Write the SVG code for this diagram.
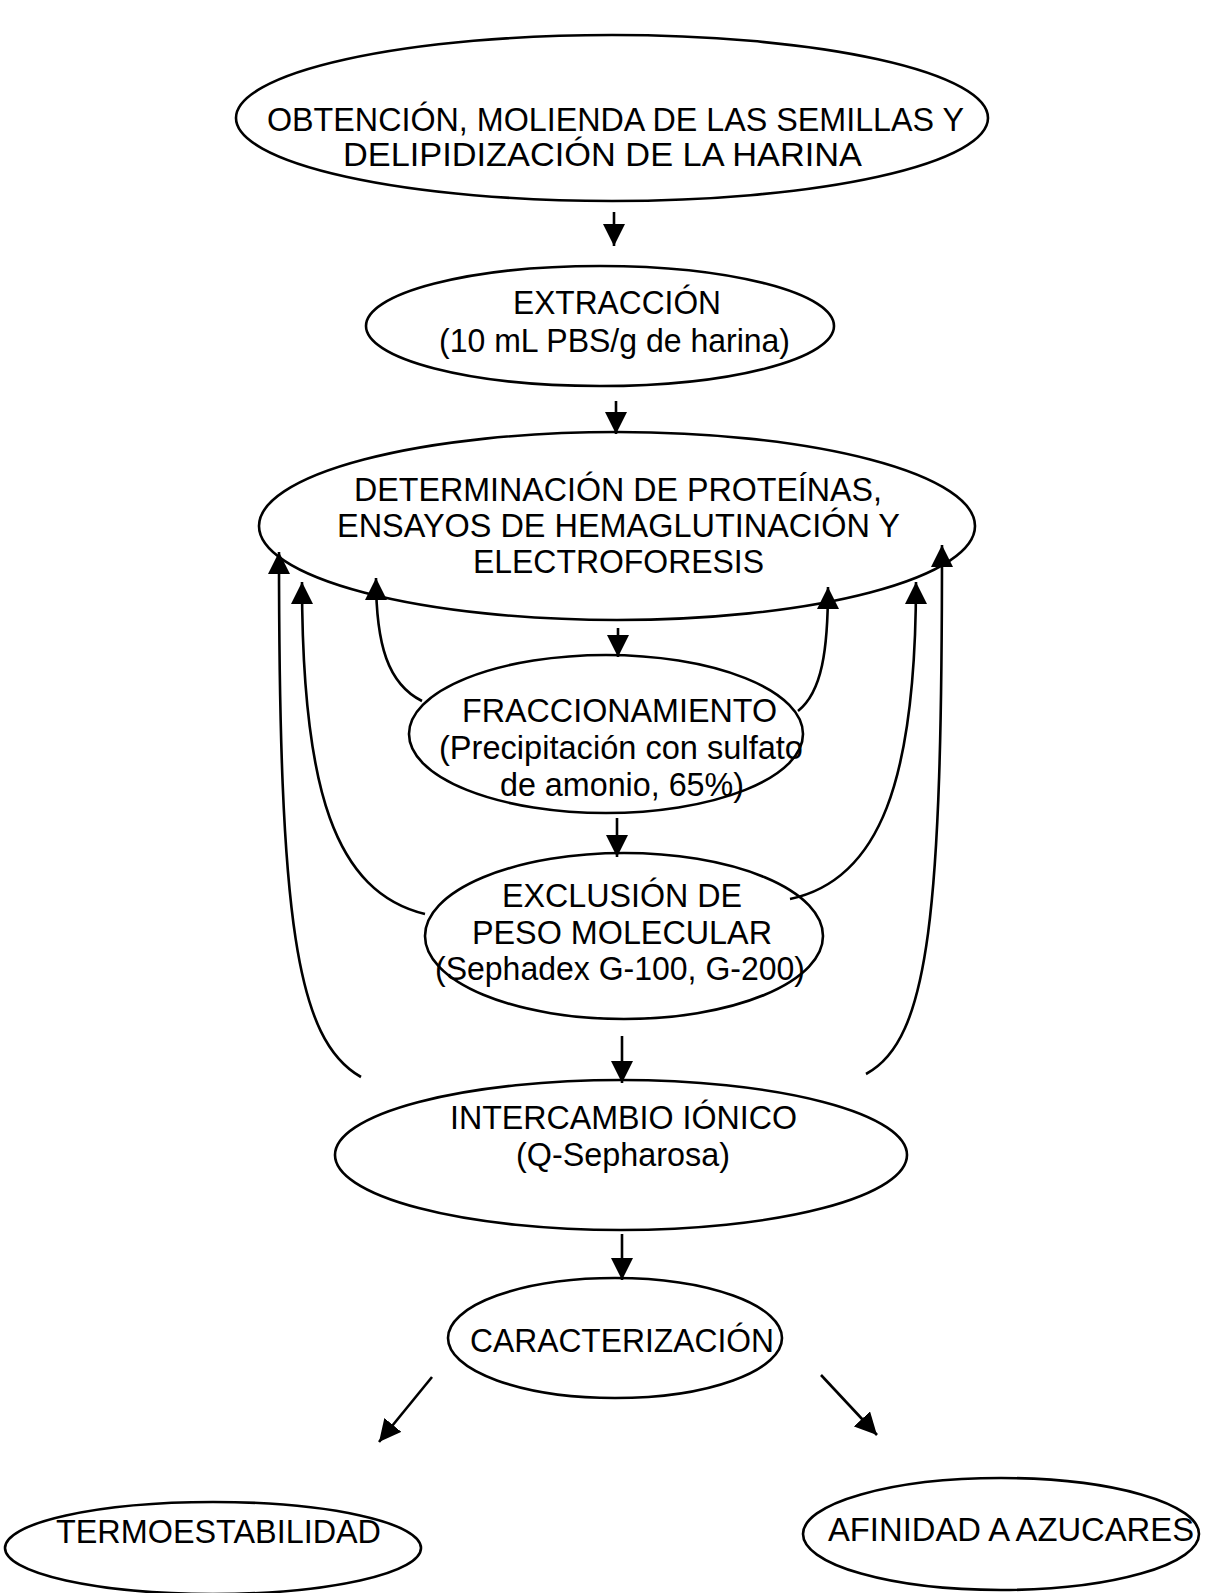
<svg xmlns="http://www.w3.org/2000/svg" width="1206" height="1593" viewBox="0 0 1206 1593">
<defs>
<marker id="ah" viewBox="0 0 22 22" refX="22" refY="11" markerWidth="22" markerHeight="22" markerUnits="userSpaceOnUse" orient="auto">
<path d="M0,0 L22,11 L0,22 z" fill="#000"/>
</marker>
<style>
.n ellipse{fill:#fff;stroke:#000;stroke-width:2.6}
.n text{font-family:"Liberation Sans",Arial,sans-serif;font-size:34px;fill:#000;text-anchor:start}
.c path,.c line{fill:none;stroke:#000;stroke-width:2.6;marker-end:url(#ah)}
</style>
</defs>
<rect width="1206" height="1593" fill="#fff"/>
<g id="node-obtencion" class="n">
<ellipse cx="612" cy="118" rx="376" ry="83"/>
<text x="267" y="131" textLength="697" lengthAdjust="spacingAndGlyphs">OBTENCIÓN, MOLIENDA DE LAS SEMILLAS Y</text>
<text x="343" y="166" textLength="519" lengthAdjust="spacingAndGlyphs">DELIPIDIZACIÓN DE LA HARINA</text>
</g>
<g id="node-extraccion" class="n">
<ellipse cx="600" cy="326" rx="234" ry="60"/>
<text x="513" y="314" textLength="208" lengthAdjust="spacingAndGlyphs">EXTRACCIÓN</text>
<text x="439" y="352" textLength="351" lengthAdjust="spacingAndGlyphs">(10 mL PBS/g de harina)</text>
</g>
<g id="node-determinacion" class="n">
<ellipse cx="617" cy="526" rx="358" ry="94"/>
<text x="354" y="501" textLength="528" lengthAdjust="spacingAndGlyphs">DETERMINACIÓN DE PROTEÍNAS,</text>
<text x="337" y="537" textLength="563" lengthAdjust="spacingAndGlyphs">ENSAYOS DE HEMAGLUTINACIÓN Y</text>
<text x="473" y="573" textLength="291" lengthAdjust="spacingAndGlyphs">ELECTROFORESIS</text>
</g>
<g id="node-fraccionamiento" class="n">
<ellipse cx="606" cy="734" rx="197" ry="79"/>
<text x="462" y="722" textLength="315" lengthAdjust="spacingAndGlyphs">FRACCIONAMIENTO</text>
<text x="439" y="759" textLength="364" lengthAdjust="spacingAndGlyphs">(Precipitación con sulfato</text>
<text x="500" y="796" textLength="244" lengthAdjust="spacingAndGlyphs">de amonio, 65%)</text>
</g>
<g id="node-exclusion" class="n">
<ellipse cx="624" cy="936" rx="199" ry="83"/>
<text x="502" y="907" textLength="240" lengthAdjust="spacingAndGlyphs">EXCLUSIÓN DE</text>
<text x="472" y="944" textLength="300" lengthAdjust="spacingAndGlyphs">PESO MOLECULAR</text>
<text x="435" y="980" textLength="370" lengthAdjust="spacingAndGlyphs">(Sephadex G-100, G-200)</text>
</g>
<g id="node-intercambio" class="n">
<ellipse cx="621" cy="1155" rx="286" ry="75"/>
<text x="450" y="1129" textLength="347" lengthAdjust="spacingAndGlyphs">INTERCAMBIO IÓNICO</text>
<text x="516" y="1166" textLength="214" lengthAdjust="spacingAndGlyphs">(Q-Sepharosa)</text>
</g>
<g id="node-caracterizacion" class="n">
<ellipse cx="615" cy="1338" rx="167" ry="60"/>
<text x="470" y="1352" textLength="304" lengthAdjust="spacingAndGlyphs">CARACTERIZACIÓN</text>
</g>
<g id="node-termoestabilidad" class="n">
<ellipse cx="213" cy="1548" rx="208" ry="46"/>
<text x="56" y="1543" textLength="325" lengthAdjust="spacingAndGlyphs">TERMOESTABILIDAD</text>
</g>
<g id="node-afinidad" class="n">
<ellipse cx="1001" cy="1534" rx="198" ry="56"/>
<text x="828" y="1541" textLength="366" lengthAdjust="spacingAndGlyphs">AFINIDAD A AZUCARES</text>
</g>
<g id="connectors" class="c">
<line x1="614" y1="212" x2="614" y2="246"/>
<line x1="616" y1="401" x2="616" y2="434"/>
<line x1="618" y1="628" x2="618" y2="657"/>
<line x1="617" y1="818" x2="617" y2="857"/>
<line x1="622" y1="1036" x2="622" y2="1083"/>
<line x1="622" y1="1234" x2="622" y2="1280"/>
<line x1="432" y1="1377" x2="379" y2="1442"/>
<line x1="821" y1="1375" x2="877" y2="1435"/>
<path d="M422,701 C388,684 376,645 376,578"/>
<path d="M425,914 C335,892 302,790 302,582"/>
<path d="M361,1077 C296,1040 279,920 279,552"/>
<path d="M798,711 C822,692 828,650 828,587"/>
<path d="M790,899 C880,880 916,780 916,582"/>
<path d="M866,1074 C930,1040 942,910 942,545"/>
</g>
</svg>
